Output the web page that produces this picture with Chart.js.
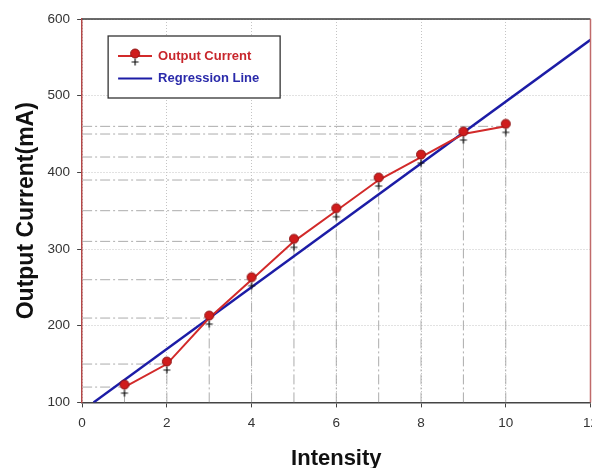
<!DOCTYPE html>
<html>
<head>
<meta charset="utf-8">
<script src="https://cdn.jsdelivr.net/npm/chart.js@4.4.0/dist/chart.umd.min.js"></script>
<style>
  html, body { margin: 0; padding: 0; background: #fff; overflow: hidden; }
  #wrap { position: absolute; left: 0; top: 0; width: 606px; height: 472px; }
</style>
</head>
<body>
<div id="wrap"><canvas id="myChart"></canvas></div>
<script>
// values
let intensity = [1, 2, 3, 4, 5, 6, 7, 8, 9, 10];
let current = [120, 150, 210, 260, 310, 350, 390, 420, 450, 460];
let regX = [0.27, 12];
let regY = [100, 573];
let xTicks = [0, 2, 4, 6, 8, 10, 12];
let yTicks = [100, 200, 300, 400, 500, 600];
let seriesNames = ['Output Current', 'Regression Line'];

let redLine = '#d22a2a';
let blueLine = '#1c1ca6';
let font = "'Liberation Sans', Arial, sans-serif";

// circle with a small cross under it, like the original symbol
function makeMarker(withLine) {
  let c = document.createElement('canvas');
  c.width = withLine ? 34 : 16;
  c.height = 26;
  let g = c.getContext('2d');
  let cx = c.width / 2;
  if (withLine) {
    g.strokeStyle = redLine;
    g.lineWidth = 2;
    g.beginPath();
    g.moveTo(0, 13);
    g.lineTo(34, 13);
    g.stroke();
  }
  g.strokeStyle = '#111';
  g.lineWidth = 1.2;
  g.beginPath();
  g.moveTo(cx - 3.5, 19);
  g.lineTo(cx + 3.5, 19);
  g.moveTo(cx, 15.5);
  g.lineTo(cx, 22.5);
  g.stroke();
  g.fillStyle = '#d01c1c';
  g.strokeStyle = '#8c1414';
  g.lineWidth = 1;
  g.beginPath();
  g.arc(cx, 10.5, 4.5, 0, Math.PI * 2);
  g.fill();
  g.stroke();
  return c;
}
let marker = makeMarker(false);
let legendMarker = makeMarker(true);

let points = intensity.map((x, i) => ({ x: x, y: current[i] }));
let dropV = [];
let dropH = [];
intensity.forEach((x, i) => {
  dropV.push({ x: x, y: yTicks[0] }, { x: x, y: current[i] }, { x: x, y: null });
  dropH.push({ x: xTicks[0], y: current[i] }, { x: x, y: current[i] }, { x: x, y: null });
});

// top + right frame lines
let frame = {
  id: 'frame',
  afterDatasetsDraw(chart) {
    let { ctx, chartArea: a } = chart;
    ctx.save();
    ctx.lineWidth = 1.5;
    ctx.strokeStyle = '#3a3a3a';
    ctx.beginPath();
    ctx.moveTo(a.left, a.top);
    ctx.lineTo(a.right, a.top);
    ctx.stroke();
    ctx.strokeStyle = '#c06a6a';
    ctx.beginPath();
    ctx.moveTo(a.right, a.top);
    ctx.lineTo(a.right, a.bottom);
    ctx.stroke();
    ctx.restore();
  }
};

// boxed legend inside the plot
let legendBox = {
  id: 'legendBox',
  afterDraw(chart) {
    let { ctx, chartArea: a } = chart;
    let x = a.left + 26, y = a.top + 17, w = 172, h = 62;
    ctx.save();
    ctx.fillStyle = '#fff';
    ctx.fillRect(x, y, w, h);
    ctx.strokeStyle = '#333';
    ctx.lineWidth = 1.3;
    ctx.strokeRect(x, y, w, h);
    ctx.drawImage(legendMarker, x + 10, y + 20 - 13);
    ctx.strokeStyle = blueLine;
    ctx.lineWidth = 2;
    ctx.beginPath();
    ctx.moveTo(x + 10, y + 42.5);
    ctx.lineTo(x + 44, y + 42.5);
    ctx.stroke();
    ctx.font = 'bold 13px ' + font;
    ctx.textBaseline = 'middle';
    ctx.fillStyle = '#c8262c';
    ctx.fillText(chart.data.datasets[0].label, x + 50, y + 20);
    ctx.fillStyle = '#2a2aaa';
    ctx.fillText(chart.data.datasets[1].label, x + 50, y + 42.5);
    ctx.restore();
  }
};

let ctx = document.getElementById('myChart').getContext('2d');
let myChart = new Chart(ctx, {
  type: 'line',
  data: {
    datasets: [{
      label: seriesNames[0],
      data: points,
      borderColor: redLine,
      borderWidth: 2,
      pointStyle: marker,
      pointRadius: 6
    }, {
      label: seriesNames[1],
      data: [{ x: regX[0], y: regY[0] }, { x: regX[1], y: regY[1] }],
      borderColor: blueLine,
      borderWidth: 2.5,
      pointRadius: 0
    }, {
      label: 'drop-v',
      data: dropV,
      borderColor: '#acacac',
      borderWidth: 1,
      borderDash: [10, 3, 2, 3],
      pointRadius: 0,
      spanGaps: false
    }, {
      label: 'drop-h',
      data: dropH,
      borderColor: '#acacac',
      borderWidth: 1,
      borderDash: [10, 3, 2, 3],
      pointRadius: 0,
      spanGaps: false
    }]
  },
  options: {
    responsive: true,
    maintainAspectRatio: false,
    animation: false,
    layout: { padding: { top: 19, left: 0, right: 0, bottom: 0 } },
    plugins: {
      legend: { display: false },
      tooltip: { enabled: false }
    },
    scales: {
      x: {
        type: 'linear',
        min: xTicks[0],
        max: xTicks[xTicks.length - 1],
        ticks: {
          stepSize: xTicks[1] - xTicks[0],
          color: '#333',
          font: { family: font, size: 13.5 },
          padding: 8
        },
        grid: {
          color: '#c4c4c4',
          tickColor: '#444',
          tickLength: 5,
          tickBorderDash: []
        },
        border: { color: '#444', width: 1.5, dash: [1, 2] },
        title: {
          display: true,
          text: 'Intensity',
          color: '#111',
          font: { family: font, size: 22, weight: 'bold' },
          padding: { top: 6, bottom: 0 }
        }
      },
      y: {
        min: yTicks[0],
        max: yTicks[yTicks.length - 1],
        ticks: {
          stepSize: yTicks[1] - yTicks[0],
          color: '#333',
          font: { family: font, size: 13.5 },
          padding: 7
        },
        grid: {
          color: '#c4c4c4',
          tickColor: '#444',
          tickLength: 5,
          tickBorderDash: []
        },
        border: { color: '#b44848', width: 1.5, dash: [1, 2] },
        title: {
          display: true,
          text: 'Output Current(mA)',
          color: '#111',
          font: { family: font, size: 23, weight: 'bold' },
          padding: { top: 13, bottom: 0 }
        }
      }
    }
  },
  plugins: [frame, legendBox]
});
</script>
</body>
</html>
